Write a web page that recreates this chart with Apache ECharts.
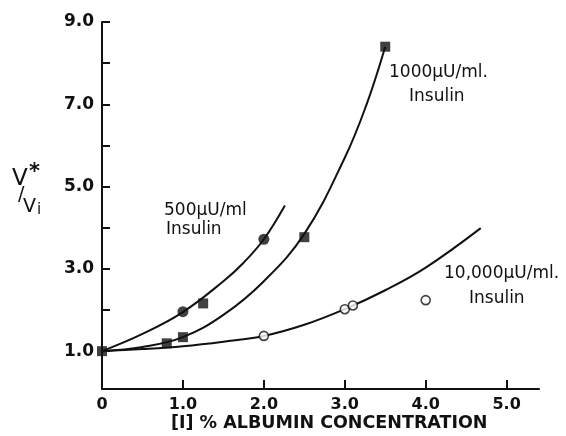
<!DOCTYPE html>
<html>
<head>
<meta charset="utf-8">
<script src="https://cdn.jsdelivr.net/npm/echarts@6/dist/echarts.min.js"></script>
<style>html,body{margin:0;padding:0;background:#fff}#c{width:566px;height:436px}</style>
</head>
<body>
<div id="c"></div>
<script>
// ---- data ----
const xTicks = [0, 1, 2, 3, 4, 5];
const yTicks = [1, 2, 3, 4, 5, 6, 7, 8, 9];
const yLabels = [1, 3, 5, 7, 9];

// measured points
const pts500 = [[1.0, 1.96], [2.0, 3.72]];                       // filled circles
const pts1000 = [[0, 1.0], [0.8, 1.19], [1.0, 1.34], [1.25, 2.16], [2.5, 3.77], [3.5, 8.4]]; // filled squares
const pts10000 = [[2.0, 1.37], [3.0, 2.02], [3.1, 2.11], [4.0, 2.24]]; // open circles

// hand-drawn fitted curves
const curve500 = [[0, 1.0], [0.5, 1.42], [1.0, 1.95], [1.5, 2.7], [1.75, 3.15], [2.0, 3.72], [2.26, 4.54]];
const curve1000 = [[0, 1.0], [0.5, 1.1], [1.0, 1.34], [1.5, 1.88], [2.0, 2.7], [2.5, 3.85], [3.0, 5.7], [3.27, 7.0], [3.5, 8.4]];
const curve10000 = [[0, 1.0], [0.5, 1.05], [1.0, 1.12], [1.5, 1.23], [2.0, 1.37], [2.5, 1.64], [3.0, 2.02], [3.5, 2.48], [4.0, 3.03], [4.68, 3.99]];

const ink = '#111';
const chart = echarts.init(document.getElementById('c'));
const lineSeries = (data) => ({
  type: 'line', data, smooth: 0.4, showSymbol: false, silent: true,
  lineStyle: { color: ink, width: 2 }, z: 2
});
chart.setOption({
  backgroundColor: '#fff',
  animation: false,
  grid: { left: 102, right: 27, top: 22, bottom: 47, containLabel: false },
  xAxis: {
    type: 'value', min: 0, max: 5.4,
    axisLine: { lineStyle: { color: ink, width: 2 } },
    axisTick: { inside: true, length: 9, lineStyle: { color: ink, width: 2 }, customValues: xTicks },
    axisLabel: {
      customValues: xTicks, margin: 8, color: ink,
      fontFamily: 'DejaVu Sans', fontWeight: 'bold', fontSize: 16,
      formatter: v => v === 0 ? '0' : v.toFixed(1)
    },
    splitLine: { show: false }
  },
  yAxis: {
    type: 'value', min: 0.08, max: 9,
    axisLine: { onZero: false, lineStyle: { color: ink, width: 2 } },
    axisTick: { inside: true, length: 8, lineStyle: { color: ink, width: 2 }, customValues: yTicks },
    axisLabel: {
      customValues: yLabels, margin: 8, color: ink,
      fontFamily: 'DejaVu Sans', fontWeight: 'bold', fontSize: 17,
      formatter: v => v.toFixed(1)
    },
    splitLine: { show: false }
  },
  series: [
    lineSeries(curve500),
    lineSeries(curve1000),
    lineSeries(curve10000),
    { type: 'scatter', name: '500 µU/ml', data: pts500, symbol: 'circle', symbolSize: 11,
      itemStyle: { color: ink }, z: 3 },
    { type: 'scatter', name: '1000 µU/ml', data: pts1000, symbol: 'rect', symbolSize: 10,
      itemStyle: { color: ink }, z: 3 },
    { type: 'scatter', name: '10,000 µU/ml', data: pts10000, symbol: 'circle', symbolSize: 9,
      itemStyle: { color: '#fff', borderColor: ink, borderWidth: 1.6 }, z: 3 }
  ],
  graphic: [
    // y-axis title V*/Vi
    { type: 'text', left: 12, top: 168, style: { text: 'V', font: '23px "DejaVu Sans"', fill: ink } },
    { type: 'text', left: 29, top: 162, style: { text: '*', font: 'bold 21px "DejaVu Sans"', fill: ink } },
    { type: 'text', left: 18, top: 186, style: { text: '/', font: '19px "DejaVu Sans"', fill: ink } },
    { type: 'text', left: 23, top: 198, style: { text: 'V', font: '19px "DejaVu Sans"', fill: ink } },
    { type: 'text', left: 37, top: 203, style: { text: 'i', font: '15px "DejaVu Sans"', fill: ink } },
    // x-axis title
    { type: 'text', left: 171, top: 414, style: { text: '[I] % ALBUMIN CONCENTRATION', font: 'bold 17.5px "DejaVu Sans"', fill: ink } },
    // series annotations
    { type: 'text', left: 164, top: 202, style: { text: '500µU/ml', font: '17px "DejaVu Sans"', fill: ink } },
    { type: 'text', left: 166, top: 221, style: { text: 'Insulin', font: '17px "DejaVu Sans"', fill: ink } },
    { type: 'text', left: 389, top: 64, style: { text: '1000µU/ml.', font: '17px "DejaVu Sans"', fill: ink } },
    { type: 'text', left: 409, top: 88, style: { text: 'Insulin', font: '17px "DejaVu Sans"', fill: ink } },
    { type: 'text', left: 444, top: 265, style: { text: '10,000µU/ml.', font: '17px "DejaVu Sans"', fill: ink } },
    { type: 'text', left: 469, top: 290, style: { text: 'Insulin', font: '17px "DejaVu Sans"', fill: ink } }
  ]
});
</script>
</body>
</html>
